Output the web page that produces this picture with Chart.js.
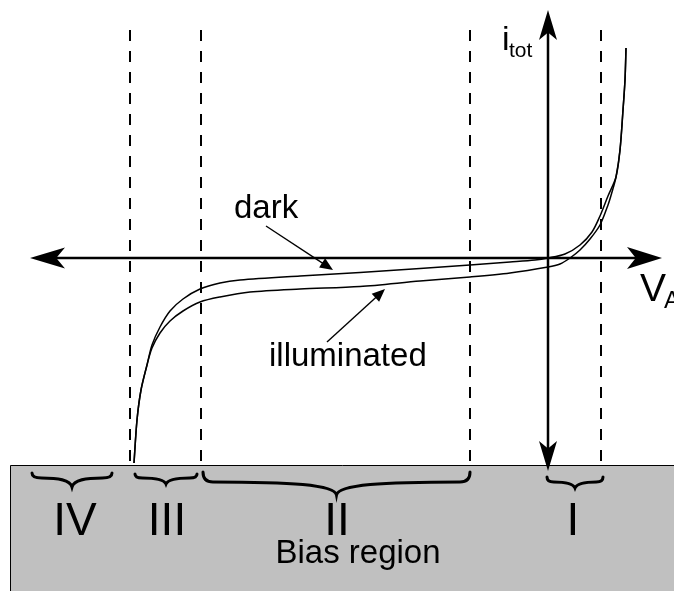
<!DOCTYPE html>
<html>
<head>
<meta charset="utf-8">
<script src="https://cdn.jsdelivr.net/npm/chart.js@4.4.1/dist/chart.umd.min.js"></script>
<style>
  html, body { margin: 0; padding: 0; background: #fff; }
  #wrap { width: 674px; height: 591px; }
</style>
</head>
<body>
<div id="wrap"><canvas id="ivChart"></canvas></div>
<script>
// I-V curve of a photodiode, origin where the two axes cross (arbitrary units)
const darkV = [-414, -411, -407, -401, -396, -388, -378, -365, -348, -328, -308, -248, -188, -128, -78, -38, -13, 0, 17, 32, 44, 52, 60, 68, 72, 75, 77, 78];
const darkI = [-205, -162, -132, -107, -87, -69, -53, -41, -31, -25, -22, -18, -14.5, -10.5, -7, -4, -2, 0, 4, 13, 26, 42, 62, 81, 108, 148, 178, 210];

const litV = [-414, -411, -407, -401, -396, -388, -378, -365, -348, -328, -298, -248, -188, -128, -78, -38, 0, 12, 22, 32, 42, 52, 60, 64, 68, 72, 75, 77, 78];
const litI = [-205, -162, -132, -107, -90, -75, -63, -53, -44, -39, -34, -31, -28.5, -23, -19, -15, -9, -6, 0, 8, 19, 33, 53, 66, 81, 108, 148, 178, 210];

// bias region boundaries and the regions between them
const regionEdges = [-418, -347, -78, 53];
const regionNames = ['IV', 'III', 'II', 'I'];
const regionSpans = [[-516, -436], [-413, -351], [-345, -78], [-1, 55]];

const xRange = [-548, 126];
const yRange = [-333, 258];

// layout of the annotations (data units)
const layout = {
  dashTop: 228, dashBottom: -208,
  boxLeft: -538, boxTop: -207,
  axisLeft: -518, axisRight: 114, axisTop: 248, axisBottom: -213,
  braces: [
    { ends: -215, arms: -220, tip: -229 },
    { ends: -216, arms: -220, tip: -226 },
    { ends: -214, arms: -224, tip: -237 },
    { ends: -219, arms: -224, tip: -230 }
  ],
  numeralX: [-473, -381, -211, 25], numeralY: -277,
  pointers: [
    { from: [-282, 32], to: [-215, -12] },
    { from: [-221, -84], to: [-163, -31] }
  ]
};

const FONT = '"Liberation Sans", Arial, Helvetica, sans-serif';

const zip = (xs, ys) => xs.map((x, i) => ({ x: x, y: ys[i] }));

function arrowHead(ctx, tx, ty, dx, dy, len, half, notch) {
  const bx = tx - dx * len, by = ty - dy * len;
  const px = -dy, py = dx;
  ctx.beginPath();
  ctx.moveTo(tx, ty);
  ctx.lineTo(bx + px * half, by + py * half);
  ctx.lineTo(tx - dx * len * notch, ty - dy * len * notch);
  ctx.lineTo(bx - px * half, by - py * half);
  ctx.closePath();
  ctx.fill();
}

function brace(ctx, x0, x1, yEnd, yArm, yTip) {
  const xc = (x0 + x1) / 2;
  const r = Math.min(10, (x1 - x0) * 0.12);
  const half = xc - x0;
  ctx.beginPath();
  ctx.moveTo(x0, yEnd);
  ctx.quadraticCurveTo(x0, yArm, x0 + r, yArm);
  ctx.bezierCurveTo(xc - half * 0.35, yArm, xc - 2, yArm + (yTip - yArm) * 0.2, xc, yTip);
  ctx.bezierCurveTo(xc + 2, yArm + (yTip - yArm) * 0.2, xc + half * 0.35, yArm, x1 - r, yArm);
  ctx.quadraticCurveTo(x1, yArm, x1, yEnd);
  ctx.stroke();
}

const diagram = {
  id: 'diagram',
  beforeDatasetsDraw(chart) {
    const { ctx, scales: { x, y }, width, height } = chart;
    const left = Math.round(x.getPixelForValue(layout.boxLeft)) + 0.5;
    const top = Math.round(y.getPixelForValue(layout.boxTop)) + 0.5;
    ctx.save();
    ctx.fillStyle = '#c0c0c0';
    ctx.fillRect(left, top, width - left, height - top);
    ctx.strokeStyle = '#000';
    ctx.lineWidth = 1;
    ctx.beginPath();
    ctx.moveTo(left, height);
    ctx.lineTo(left, top);
    ctx.lineTo(width, top);
    ctx.stroke();
    ctx.restore();
  },
  afterDatasetsDraw(chart) {
    const { ctx, scales: { x, y } } = chart;
    const X = v => x.getPixelForValue(v);
    const Y = v => y.getPixelForValue(v);
    ctx.save();
    ctx.fillStyle = '#000';
    ctx.strokeStyle = '#000';

    // axes with arrow heads on both ends
    const x0 = X(0), y0 = Y(0);
    ctx.lineWidth = 2.5;
    ctx.beginPath();
    ctx.moveTo(X(layout.axisLeft) + 20, y0);
    ctx.lineTo(X(layout.axisRight) - 20, y0);
    ctx.moveTo(x0, Y(layout.axisTop) + 20);
    ctx.lineTo(x0, Y(layout.axisBottom) - 20);
    ctx.stroke();
    arrowHead(ctx, X(layout.axisLeft), y0, -1, 0, 35, 10.5, 0.75);
    arrowHead(ctx, X(layout.axisRight), y0, 1, 0, 35, 11, 0.75);
    arrowHead(ctx, x0, Y(layout.axisTop), 0, -1, 30, 9, 0.75);
    arrowHead(ctx, x0, Y(layout.axisBottom), 0, 1, 30, 9, 0.75);

    // label pointers
    ctx.lineWidth = 1.4;
    layout.pointers.forEach(p => {
      const fx = X(p.from[0]), fy = Y(p.from[1]);
      const tx = X(p.to[0]), ty = Y(p.to[1]);
      const d = Math.hypot(tx - fx, ty - fy);
      const dx = (tx - fx) / d, dy = (ty - fy) / d;
      ctx.beginPath();
      ctx.moveTo(fx, fy);
      ctx.lineTo(tx - dx * 8, ty - dy * 8);
      ctx.stroke();
      arrowHead(ctx, tx, ty, dx, dy, 13, 5.5, 1);
    });

    // braces under each bias region
    ctx.lineWidth = 3;
    ctx.lineCap = 'round';
    regionSpans.forEach((s, i) => {
      const b = layout.braces[i];
      brace(ctx, X(s[0]), X(s[1]), Y(b.ends), Y(b.arms), Y(b.tip));
    });

    // text
    ctx.textBaseline = 'alphabetic';
    ctx.textAlign = 'center';
    ctx.font = '46px ' + FONT;
    regionNames.forEach((n, i) => ctx.fillText(n, X(layout.numeralX[i]), Y(layout.numeralY)));
    ctx.font = '33px ' + FONT;
    ctx.fillText('Bias region', X(-190), Y(-305));
    ctx.textAlign = 'left';
    ctx.fillText('dark', X(-314), Y(40));
    ctx.fillText('illuminated', X(-279), Y(-108));
    ctx.font = '34px ' + FONT;
    ctx.fillText('i', X(-46), Y(208));
    ctx.font = '21px ' + FONT;
    ctx.fillText('tot', X(-39), Y(201));
    ctx.font = '39px ' + FONT;
    ctx.fillText('V', X(92), Y(-43));
    ctx.font = '24px ' + FONT;
    ctx.fillText('A', X(116), Y(-50));
    ctx.restore();
  }
};

const edgeSets = regionEdges.map(v => ({
  data: [{ x: v, y: layout.dashTop }, { x: v, y: layout.dashBottom }],
  borderColor: '#000',
  borderWidth: 2,
  borderDash: [11, 10],
  showLine: true,
  pointRadius: 0
}));

new Chart(document.getElementById('ivChart'), {
  type: 'scatter',
  data: {
    datasets: [
      ...edgeSets,
      { label: 'dark', data: zip(darkV, darkI), borderColor: '#000', borderWidth: 1.5, showLine: true, pointRadius: 0, tension: 0.3 },
      { label: 'illuminated', data: zip(litV, litI), borderColor: '#000', borderWidth: 1.5, showLine: true, pointRadius: 0, tension: 0.3 }
    ]
  },
  options: {
    responsive: true,
    maintainAspectRatio: false,
    animation: false,
    layout: { padding: 0 },
    plugins: { legend: { display: false }, tooltip: { enabled: false } },
    scales: {
      x: { type: 'linear', min: xRange[0], max: xRange[1], display: false },
      y: { type: 'linear', min: yRange[0], max: yRange[1], display: false }
    }
  },
  plugins: [diagram]
});
</script>
</body>
</html>
